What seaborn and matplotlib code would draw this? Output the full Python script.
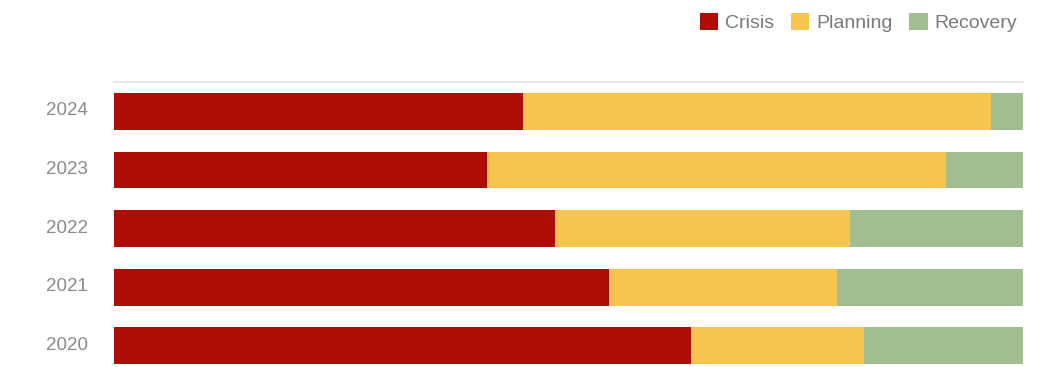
import matplotlib
matplotlib.use("Agg")
import matplotlib.pyplot as plt
import matplotlib.transforms as mtransforms
from matplotlib.patches import Patch
import pandas as pd
import seaborn as sns

# Share of each phase per year (percent)
years = ["2024", "2023", "2022", "2021", "2020"]
crisis = [45.0, 41.0, 48.5, 54.5, 63.5]
planning = [51.5, 50.5, 32.5, 25.0, 19.0]
recovery = [3.5, 8.5, 19.0, 20.5, 17.5]

phases = ["Crisis", "Planning", "Recovery"]
colors = {"Crisis": "#ae0d04", "Planning": "#f5c54f", "Recovery": "#a0be90"}

df = pd.DataFrame({"year": years, "Crisis": crisis,
                   "Planning": planning, "Recovery": recovery})
df["cum_planning"] = df["Crisis"] + df["Planning"]
df["cum_recovery"] = df["cum_planning"] + df["Recovery"]

sns.set_style("white")
plt.rcParams["font.family"] = ["Liberation Sans", "DejaVu Sans"]

fig = plt.figure(figsize=(10.43, 3.67), dpi=100)
ax = fig.add_axes([114 / 1043, -0.022, 909 / 1043, 0.7983])

# Stacked bars: draw cumulative totals back to front
for col, phase in [("cum_recovery", "Recovery"),
                   ("cum_planning", "Planning"),
                   ("Crisis", "Crisis")]:
    sns.barplot(data=df, x=col, y="year", order=years, orient="h",
                color=colors[phase], saturation=1, width=0.63,
                linewidth=0, ax=ax)

ax.set_xlim(0, 100)
ax.set_ylim(4.5, -0.5)
ax.set_xlabel("")
ax.set_ylabel("")
ax.set_xticks([])
ax.tick_params(axis="y", length=0, pad=19, labelsize=13.5, labelcolor="#8a8a8a")

# nudge year labels slightly upward
lift = mtransforms.ScaledTranslation(0, 2.5 / 100, fig.dpi_scale_trans)
for lbl in ax.get_yticklabels():
    lbl.set_transform(lbl.get_transform() + lift)

for side in ["left", "right", "bottom"]:
    ax.spines[side].set_visible(False)
ax.spines["top"].set_color("#e3e3e3")
ax.spines["top"].set_linewidth(1.2)

handles = [Patch(facecolor=colors[p], edgecolor="none", label=p) for p in phases]
fig.legend(handles=handles, loc="upper right", bbox_to_anchor=(1017 / 1043, 1 - 13 / 367),
           ncol=3, frameon=False, fontsize=14, labelcolor="#7a7a7a",
           handlelength=0.95, handleheight=0.95, handletextpad=0.35,
           columnspacing=0.85, borderpad=0, borderaxespad=0)

fig.savefig("out.png", dpi=100, facecolor="white")
